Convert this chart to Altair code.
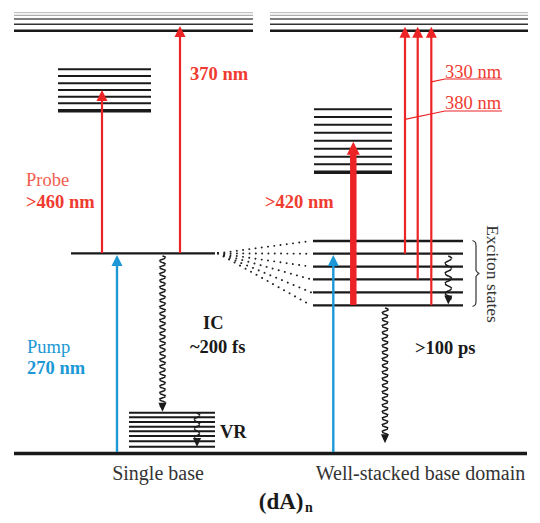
import altair as alt
import pandas as pd
import numpy as np

RED = "#ec2426"
RED_T = "#ef3b30"
RED_L = "#f2604f"
BLUE = "#1b98d5"
BLACK = "#1a1a1a"
FONT = "Liberation Serif"

# ---------------- data ----------------
# energy levels: (x start, x end, y, stroke width, colour)
top_y = [12.7, 15.3, 19.0, 24.3, 30.7]
top_w = [1.0, 1.0, 1.3, 1.6, 2.4]
top_c = ["#b4b4b4", "#9a9a9a", "#555555", "#333333", "#1a1a1a"]
top_left_x = [14, 253]
top_right_x = [270, 528]

upper_left_y = [69.3, 76.0, 83.3, 90.0, 96.7, 103.3, 110.7]
upper_left_x = [58, 151]
upper_right_y = [109.3, 117.0, 124.7, 132.7, 140.7, 148.7, 156.7, 164.3, 172.3]
upper_right_x = [314, 392]

s1_x = [71, 215]
s1_y = 253.3
exciton_y = [241.0, 253.7, 266.7, 279.3, 292.3, 305.3]
exciton_x = [313, 463]
vr_y = [412.7, 417.3, 422.0, 426.7, 431.3, 436.0, 441.3, 446.7]
vr_x = [129, 215]
ground_x = [14, 527]
ground_y = 453.5

# vertical arrows: x, base y, tip y, colour, shaft width, head kind
arrow_x = [102, 180, 117, 353.3, 405, 417.7, 431.3, 333.3]
arrow_y0 = [253, 253, 452, 305, 253.7, 279.3, 305.3, 452]
arrow_tip = [90, 26, 255, 141.7, 26.7, 26.7, 26.7, 255]
arrow_col = [RED, RED, BLUE, RED, RED, RED, RED, BLUE]
arrow_w = [2.2, 2.2, 2.4, 6.5, 2.2, 2.2, 2.2, 2.4]
arrow_head = ["up", "up", "up", "thick", "up", "up", "up", "up"]

# wavy (non-radiative) arrows: x, start y, tip y, amplitude, period
wave_x = [162.5, 385, 448.3, 197]
wave_y0 = [256, 308, 256, 413]
wave_tip = [411.7, 443.3, 304.5, 447]
wave_amp = [3.1, 3.1, 3.4, 2.8]
wave_per = [6.6, 6.6, 10.0, 9.0]

# label leader lines for 330 / 380 nm
lead_x1 = [445, 445, 445, 445]
lead_y1 = [79, 79, 111, 111]
lead_x2 = [502, 431.3, 502, 405]
lead_y2 = [79, 81.8, 111, 119.3]

# brace
brace_x = [472.5, 475.5, 476, 476, 479.5, 476, 476, 475.5, 472.5]
brace_y = [240.5, 242.5, 246, 270.5, 273.5, 276.5, 301, 304.5, 306.5]

# ---------------- build tables ----------------
lv = []
for y, w, c in zip(top_y, top_w, top_c):
    lv.append((top_left_x[0], top_left_x[1], y, w, c))
    lv.append((top_right_x[0], top_right_x[1], y, w, c))
for i, y in enumerate(upper_left_y):
    lv.append((upper_left_x[0], upper_left_x[1], y, 3.6 if i == len(upper_left_y) - 1 else 2.1, BLACK))
for i, y in enumerate(upper_right_y):
    lv.append((upper_right_x[0], upper_right_x[1], y, 3.6 if i == len(upper_right_y) - 1 else 2.1, BLACK))
lv.append((s1_x[0], s1_x[1], s1_y, 2.3, BLACK))
for y in exciton_y:
    lv.append((exciton_x[0], exciton_x[1], y, 2.3, BLACK))
for y in vr_y:
    lv.append((vr_x[0], vr_x[1], y, 2.0, BLACK))
lv.append((ground_x[0], ground_x[1], ground_y, 3.4, BLACK))
levels = pd.DataFrame(lv, columns=["x", "x2", "y", "w", "c"])

HEAD_LEN = {"up": 11, "thick": 13}
shafts = pd.DataFrame({
    "x": arrow_x,
    "y": arrow_y0,
    "y2": [t + HEAD_LEN[h] * 0.7 for t, h in zip(arrow_tip, arrow_head)],
    "c": arrow_col,
    "w": arrow_w,
})
heads = pd.DataFrame({"x": arrow_x, "y": arrow_tip, "c": arrow_col, "h": arrow_head})

wrows = []
for g, (x, y0, yt, a, p) in enumerate(zip(wave_x, wave_y0, wave_tip, wave_amp, wave_per)):
    yend = yt - 6
    n = int((yend - y0) / p * 10) + 2
    ts = np.linspace(0, 1, n)
    for k, t in enumerate(ts):
        yy = y0 + t * (yend - y0)
        wrows.append((g, k, x + a * np.sin(2 * np.pi * (yy - y0) / p), yy))
    wrows.append((g, n, x, yt - 3))
waves = pd.DataFrame(wrows, columns=["g", "o", "x", "y"])
wheads = pd.DataFrame({"x": wave_x, "y": wave_tip})

dots = pd.DataFrame({
    "x": [s1_x[1] + 3] * len(exciton_y),
    "y": [s1_y] * len(exciton_y),
    "x2": [exciton_x[0] - 2] * len(exciton_y),
    "y2": exciton_y,
})
leads = pd.DataFrame({"x": lead_x1, "y": lead_y1, "x2": lead_x2, "y2": lead_y2})
brace = pd.DataFrame({"o": list(range(len(brace_x))), "x": brace_x, "y": brace_y})

bold_txt = pd.DataFrame({
    "t": ["370 nm", ">460 nm", ">420 nm", "270 nm", "IC", "~200 fs", "VR", ">100 ps"],
    "x": [190, 26, 265, 27, 203, 190, 220, 415],
    "y": [74, 202, 202, 367.5, 323, 347, 432, 347.5],
    "c": [RED_T, RED_T, RED_T, BLUE, BLACK, BLACK, BLACK, BLACK],
})
norm_txt = pd.DataFrame({
    "t": ["Probe", "Pump", "330 nm", "380 nm"],
    "x": [26, 27, 445, 445],
    "y": [180, 347, 71.5, 103],
    "c": [RED_L, BLUE, RED_T, RED_T],
})
axis_txt = pd.DataFrame({
    "t": ["Single base", "Well-stacked base domain"],
    "x": [158, 420.5],
    "y": [473.5, 473.5],
})
rot_txt = pd.DataFrame({"t": ["Exciton states"], "x": [491.5], "y": [274]})
title_txt = pd.DataFrame({"t": ["(dA)"], "x": [303.5], "y": [508.5]})
sub_txt = pd.DataFrame({"t": ["n"], "x": [305], "y": [511.5]})

# ---------------- scales ----------------
xs = alt.Scale(domain=[8, 532], nice=False, zero=False)
ys = alt.Scale(domain=[8, 515], nice=False, zero=False, reverse=True)


def X(f="x"):
    return alt.X(f"{f}:Q", scale=xs, axis=None)


def Y(f="y"):
    return alt.Y(f"{f}:Q", scale=ys, axis=None)


lev_layer = alt.Chart(levels).mark_rule(strokeCap="butt").encode(
    x=X(), x2="x2:Q", y=Y(),
    strokeWidth=alt.StrokeWidth("w:Q", scale=None),
    color=alt.Color("c:N", scale=None),
)
dot_layer = alt.Chart(dots).mark_rule(
    strokeDash=[0.1, 6.2], strokeCap="round", strokeWidth=1.9, color="#222"
).encode(x=X(), y=Y(), x2="x2:Q", y2="y2:Q")

shaft_layer = alt.Chart(shafts).mark_rule(strokeCap="butt").encode(
    x=X(), y=Y(), y2="y2:Q",
    strokeWidth=alt.StrokeWidth("w:Q", scale=None),
    color=alt.Color("c:N", scale=None),
)
up_head = alt.Chart(heads).transform_filter(alt.datum.h == "up").mark_point(
    shape="M0,0L0.5,1L-0.5,1Z", filled=True, size=484, opacity=1, strokeWidth=0
).encode(x=X(), y=Y(), color=alt.Color("c:N", scale=None))
thick_head = alt.Chart(heads).transform_filter(alt.datum.h == "thick").mark_point(
    shape="M0,0L0.5,1L-0.5,1Z", filled=True, size=676, opacity=1, strokeWidth=0
).encode(x=X(), y=Y(), color=alt.Color("c:N", scale=None))

wave_layer = alt.Chart(waves).mark_line(color=BLACK, strokeWidth=1.5, interpolate="monotone").encode(
    x=X(), y=Y(), detail="g:N", order="o:Q"
)
whead_layer = alt.Chart(wheads).mark_point(
    shape="M0,0L0.45,-1L-0.45,-1Z", filled=True, size=324, opacity=1, strokeWidth=0, color=BLACK
).encode(x=X(), y=Y())

lead_layer = alt.Chart(leads).mark_rule(color=RED, strokeWidth=1.2).encode(
    x=X(), y=Y(), x2="x2:Q", y2="y2:Q"
)
brace_layer = alt.Chart(brace).mark_line(color="#333", strokeWidth=1.2, interpolate="monotone").encode(
    x=X(), y=Y(), order="o:Q"
)

bold_layer = alt.Chart(bold_txt).mark_text(
    font=FONT, fontSize=18.5, fontWeight="bold", align="left", baseline="middle"
).encode(x=X(), y=Y(), text="t:N", color=alt.Color("c:N", scale=None))
norm_layer = alt.Chart(norm_txt).mark_text(
    font=FONT, fontSize=18.5, align="left", baseline="middle"
).encode(x=X(), y=Y(), text="t:N", color=alt.Color("c:N", scale=None))
axis_layer = alt.Chart(axis_txt).mark_text(
    font=FONT, fontSize=20, align="center", baseline="middle", color="#333"
).encode(x=X(), y=Y(), text="t:N")
rot_layer = alt.Chart(rot_txt).mark_text(
    font=FONT, fontSize=17.5, align="center", baseline="middle", angle=90, color="#333"
).encode(x=X(), y=Y(), text="t:N")
title_layer = alt.Chart(title_txt).mark_text(
    font=FONT, fontSize=23, fontWeight="bold", align="right", baseline="alphabetic", color=BLACK
).encode(x=X(), y=Y(), text="t:N")
sub_layer = alt.Chart(sub_txt).mark_text(
    font=FONT, fontSize=14, fontWeight="bold", align="left", baseline="alphabetic", color=BLACK
).encode(x=X(), y=Y(), text="t:N")

chart = alt.layer(
    dot_layer, lev_layer, wave_layer, whead_layer, shaft_layer, up_head, thick_head,
    lead_layer, brace_layer, bold_layer, norm_layer, axis_layer, rot_layer,
    title_layer, sub_layer,
).properties(
    width=524, height=507, padding=0, autosize="none", background="white"
).configure_view(stroke=None)

chart.save("out.html", embed_options={"renderer": "svg", "actions": False})
